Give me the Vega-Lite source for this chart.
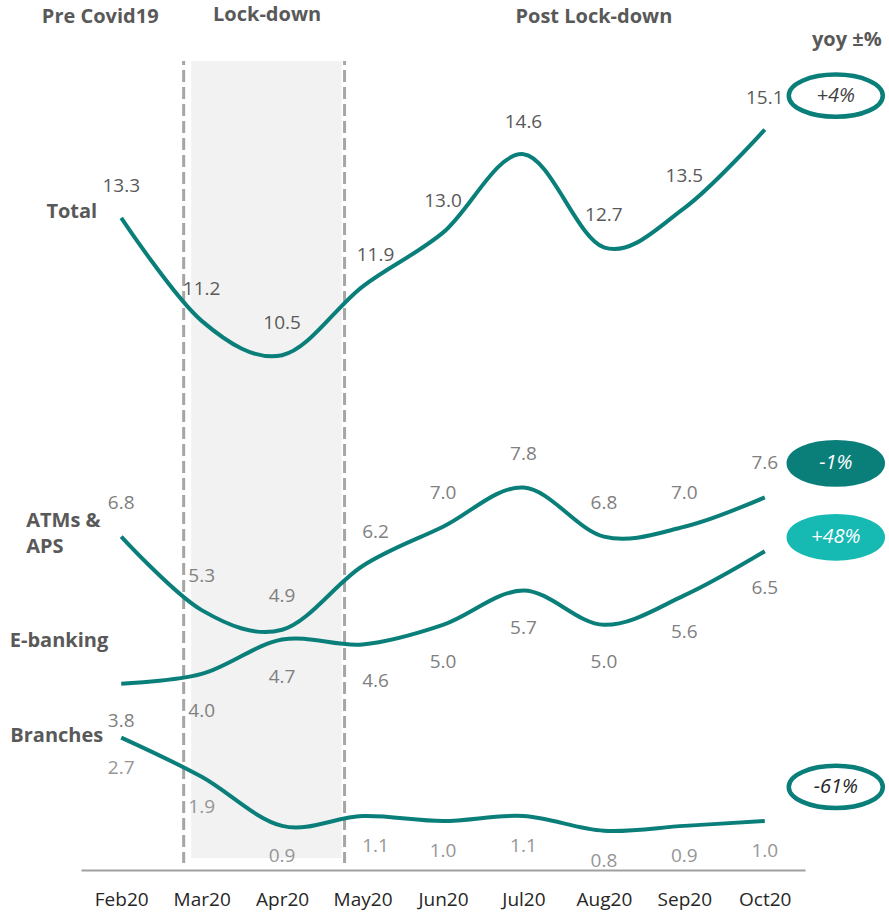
{
  "$schema": "https://vega.github.io/schema/vega-lite/v6.json",
  "width": 724,
  "height": 809,
  "autosize": {"type": "none"},
  "padding": {"left": 81, "top": 61, "right": 84, "bottom": 44},
  "background": "#ffffff",
  "config": {
    "view": {"stroke": null},
    "font": "Open Sans",
    "text": {"font": "Open Sans", "fontSize": 19, "baseline": "middle"}
  },
  "datasets": {
    "ratios": [
      {"series": "Total", "month": "Feb20", "value": 13.3},
      {"series": "Total", "month": "Mar20", "value": 11.2},
      {"series": "Total", "month": "Apr20", "value": 10.5},
      {"series": "Total", "month": "May20", "value": 11.9},
      {"series": "Total", "month": "Jun20", "value": 13.0},
      {"series": "Total", "month": "Jul20", "value": 14.6},
      {"series": "Total", "month": "Aug20", "value": 12.7},
      {"series": "Total", "month": "Sep20", "value": 13.5},
      {"series": "Total", "month": "Oct20", "value": 15.1},
      {"series": "ATMs & APS", "month": "Feb20", "value": 6.8},
      {"series": "ATMs & APS", "month": "Mar20", "value": 5.3},
      {"series": "ATMs & APS", "month": "Apr20", "value": 4.9},
      {"series": "ATMs & APS", "month": "May20", "value": 6.2},
      {"series": "ATMs & APS", "month": "Jun20", "value": 7.0},
      {"series": "ATMs & APS", "month": "Jul20", "value": 7.8},
      {"series": "ATMs & APS", "month": "Aug20", "value": 6.8},
      {"series": "ATMs & APS", "month": "Sep20", "value": 7.0},
      {"series": "ATMs & APS", "month": "Oct20", "value": 7.6},
      {"series": "E-banking", "month": "Feb20", "value": 3.8},
      {"series": "E-banking", "month": "Mar20", "value": 4.0},
      {"series": "E-banking", "month": "Apr20", "value": 4.7},
      {"series": "E-banking", "month": "May20", "value": 4.6},
      {"series": "E-banking", "month": "Jun20", "value": 5.0},
      {"series": "E-banking", "month": "Jul20", "value": 5.7},
      {"series": "E-banking", "month": "Aug20", "value": 5.0},
      {"series": "E-banking", "month": "Sep20", "value": 5.6},
      {"series": "E-banking", "month": "Oct20", "value": 6.5},
      {"series": "Branches", "month": "Feb20", "value": 2.7},
      {"series": "Branches", "month": "Mar20", "value": 1.9},
      {"series": "Branches", "month": "Apr20", "value": 0.9},
      {"series": "Branches", "month": "May20", "value": 1.1},
      {"series": "Branches", "month": "Jun20", "value": 1.0},
      {"series": "Branches", "month": "Jul20", "value": 1.1},
      {"series": "Branches", "month": "Aug20", "value": 0.8},
      {"series": "Branches", "month": "Sep20", "value": 0.9},
      {"series": "Branches", "month": "Oct20", "value": 1.0}
    ],
    "yoy": [
      {"series": "Total", "yoy": "+4%"},
      {"series": "ATMs & APS", "yoy": "-1%"},
      {"series": "E-banking", "yoy": "+48%"},
      {"series": "Branches", "yoy": "-61%"}
    ]
  },
  "data": {"name": "ratios"},
  "encoding": {
    "x": {
      "field": "month",
      "type": "ordinal",
      "title": null,
      "sort": ["Feb20", "Mar20", "Apr20", "May20", "Jun20", "Jul20", "Aug20", "Sep20", "Oct20"],
      "scale": {"type": "point", "domain": ["Feb20", "Mar20", "Apr20", "May20", "Jun20", "Jul20", "Aug20", "Sep20", "Oct20"]},
      "axis": {
        "title": null,
        "labelAngle": 0,
        "ticks": false,
        "tickSize": 0,
        "labelPadding": 20,
        "labelFont": "Open Sans",
        "labelFontSize": 19,
        "labelColor": "#262626",
        "domainColor": "#a0a0a0",
        "domainWidth": 2,
        "grid": false
      }
    }
  },
  "layer": [
    {
      "data": {"values": [{"period": "Lock-down", "start": "Mar20", "end": "May20"}]},
      "mark": {"type": "rect", "fill": "#f2f2f2", "xOffset": -10.5, "x2Offset": -21},
      "encoding": {
        "x": {"field": "start", "type": "ordinal", "title": null},
        "x2": {"field": "end"},
        "y": {"datum": 16.5, "type": "quantitative", "scale": {"domain": [0, 16.5], "nice": false, "zero": false}, "axis": null},
        "y2": {"datum": 0.245}
      }
    },
    {
      "data": {"values": [{"period": "Lock-down", "start": "Mar20", "end": "May20"}]},
      "transform": [{"fold": ["start", "end"], "as": ["edge", "month"]}],
      "mark": {
        "type": "rule",
        "stroke": "#a6a6a6",
        "strokeWidth": 3,
        "strokeDash": [12, 5],
        "strokeDashOffset": 8,
        "xOffset": -18
      },
      "encoding": {
        "y": {"datum": 16.5, "type": "quantitative", "axis": null},
        "y2": {"datum": 0.143}
      }
    },
    {
      "encoding": {
        "y": {
          "field": "value",
          "type": "quantitative",
          "scale": {"domain": [0, 16.5], "nice": false, "zero": false},
          "axis": null
        }
      },
      "layer": [
        {
          "mark": {"type": "line", "interpolate": "cardinal", "color": "#0a7f7a", "strokeWidth": 4, "strokeCap": "butt"},
          "encoding": {"detail": {"field": "series", "type": "nominal"}}
        },
        {
          "encoding": {"text": {"field": "value", "type": "quantitative", "format": ".1f"}},
          "layer": [
            {
              "transform": [{"filter": "datum.series === 'Total' && datum.month !== 'May20'"}],
              "mark": {"type": "text", "dy": -32, "color": "#595959"}
            },
            {
              "transform": [{"filter": "datum.series === 'Total' && datum.month === 'May20'"}],
              "mark": {"type": "text", "dy": -32, "dx": 13, "color": "#595959"}
            },
            {
              "transform": [{"filter": "datum.series === 'ATMs & APS' && datum.month !== 'May20'"}],
              "mark": {"type": "text", "dy": -34, "color": "#808080"}
            },
            {
              "transform": [{"filter": "datum.series === 'ATMs & APS' && datum.month === 'May20'"}],
              "mark": {"type": "text", "dy": -34, "dx": 13, "color": "#808080"}
            },
            {
              "transform": [{"filter": "datum.series === 'E-banking' && datum.month !== 'May20'"}],
              "mark": {"type": "text", "dy": 37, "color": "#808080"}
            },
            {
              "transform": [{"filter": "datum.series === 'E-banking' && datum.month === 'May20'"}],
              "mark": {"type": "text", "dy": 37, "dx": 13, "color": "#808080"}
            },
            {
              "transform": [{"filter": "datum.series === 'Branches' && datum.month !== 'May20'"}],
              "mark": {"type": "text", "dy": 30, "color": "#969696"}
            },
            {
              "transform": [{"filter": "datum.series === 'Branches' && datum.month === 'May20'"}],
              "mark": {"type": "text", "dy": 30, "dx": 13, "color": "#969696"}
            }
          ]
        },
        {
          "transform": [{"filter": "datum.month === 'Feb20'"}],
          "layer": [
            {
              "transform": [{"filter": "datum.series === 'Total'"}],
              "mark": {"type": "text", "align": "right", "dx": -24, "dy": -6, "fontWeight": "bold", "fontSize": 20, "color": "#595959"},
              "encoding": {"text": {"field": "series"}}
            },
            {
              "transform": [{"filter": "datum.series === 'ATMs & APS'"}],
              "mark": {"type": "text", "align": "left", "dx": -95, "dy": -16, "lineHeight": 26, "fontWeight": "bold", "fontSize": 20, "color": "#595959"},
              "encoding": {"text": {"value": ["ATMs &", "APS"]}}
            },
            {
              "transform": [{"filter": "datum.series === 'E-banking'"}],
              "mark": {"type": "text", "align": "right", "dx": -13, "dy": -43, "fontWeight": "bold", "fontSize": 20, "color": "#595959"},
              "encoding": {"text": {"field": "series"}}
            },
            {
              "transform": [{"filter": "datum.series === 'Branches'"}],
              "mark": {"type": "text", "align": "right", "dx": -18, "dy": -2, "fontWeight": "bold", "fontSize": 20, "color": "#595959"},
              "encoding": {"text": {"field": "series"}}
            }
          ]
        },
        {
          "transform": [
            {"filter": "datum.month === 'Oct20'"},
            {"lookup": "series", "from": {"data": {"name": "yoy"}, "key": "series", "fields": ["yoy"]}}
          ],
          "layer": [
            {
              "transform": [{"filter": "datum.series !== 'E-banking'"}],
              "mark": {
                "type": "point",
                "shape": "M-2,0C-2,-0.497 -1.105,-0.9 0,-0.9C1.105,-0.9 2,-0.497 2,0C2,0.497 1.105,0.9 0,0.9C-1.105,0.9 -2,0.497 -2,0Z",
                "size": 2209,
                "strokeWidth": 4.5,
                "filled": true,
                "opacity": 1,
                "xOffset": 71,
                "yOffset": -34
              },
              "encoding": {
                "fill": {"condition": [{"test": "datum.series === 'ATMs & APS'", "value": "#0a7f7a"}], "value": "#ffffff"},
                "stroke": {"value": "#0a7f7a"}
              }
            },
            {
              "transform": [{"filter": "datum.series === 'E-banking'"}],
              "mark": {
                "type": "point",
                "shape": "M-2,0C-2,-0.497 -1.105,-0.9 0,-0.9C1.105,-0.9 2,-0.497 2,0C2,0.497 1.105,0.9 0,0.9C-1.105,0.9 -2,0.497 -2,0Z",
                "size": 2209,
                "strokeWidth": 4.5,
                "filled": true,
                "opacity": 1,
                "xOffset": 71,
                "yOffset": -14
              },
              "encoding": {
                "fill": {"value": "#17b9b3"},
                "stroke": {"value": "#17b9b3"}
              }
            },
            {
              "transform": [{"filter": "datum.series !== 'E-banking'"}],
              "mark": {"type": "text", "fontStyle": "italic", "fontSize": 20, "xOffset": 71, "yOffset": -34},
              "encoding": {
                "text": {"field": "yoy"},
                "color": {"condition": [{"test": "datum.series === 'ATMs & APS'", "value": "#ffffff"}, {"test": "datum.series === 'Branches'", "value": "#262626"}], "value": "#404040"}
              }
            },
            {
              "transform": [{"filter": "datum.series === 'E-banking'"}],
              "mark": {"type": "text", "fontStyle": "italic", "fontSize": 20, "xOffset": 71, "yOffset": -14, "color": "#ffffff"},
              "encoding": {"text": {"field": "yoy"}}
            }
          ]
        }
      ]
    },
    {
      "data": {"values": [
        {"label": "Pre Covid19", "month": "Feb20"},
        {"label": "Lock-down", "month": "Apr20"},
        {"label": "Post Lock-down", "month": "Aug20"},
        {"label": "yoy ±%", "month": "Oct20"}
      ]},
      "encoding": {"text": {"field": "label"}},
      "layer": [
        {
          "transform": [{"filter": "datum.label === 'Pre Covid19'"}],
          "mark": {"type": "text", "dx": -21, "fontWeight": "bold", "fontSize": 20, "color": "#595959"},
          "encoding": {"y": {"datum": 17.4, "type": "quantitative", "axis": null}}
        },
        {
          "transform": [{"filter": "datum.label === 'Lock-down'"}],
          "mark": {"type": "text", "dx": -15, "fontWeight": "bold", "fontSize": 20, "color": "#595959"},
          "encoding": {"y": {"datum": 17.44, "type": "quantitative", "axis": null}}
        },
        {
          "transform": [{"filter": "datum.label === 'Post Lock-down'"}],
          "mark": {"type": "text", "dx": -10, "fontWeight": "bold", "fontSize": 20, "color": "#595959"},
          "encoding": {"y": {"datum": 17.4, "type": "quantitative", "axis": null}}
        },
        {
          "transform": [{"filter": "datum.label === 'yoy ±%'"}],
          "mark": {"type": "text", "dx": 82, "fontWeight": "bold", "fontSize": 20, "color": "#595959"},
          "encoding": {"y": {"datum": 16.93, "type": "quantitative", "axis": null}}
        }
      ]
    }
  ]
}
